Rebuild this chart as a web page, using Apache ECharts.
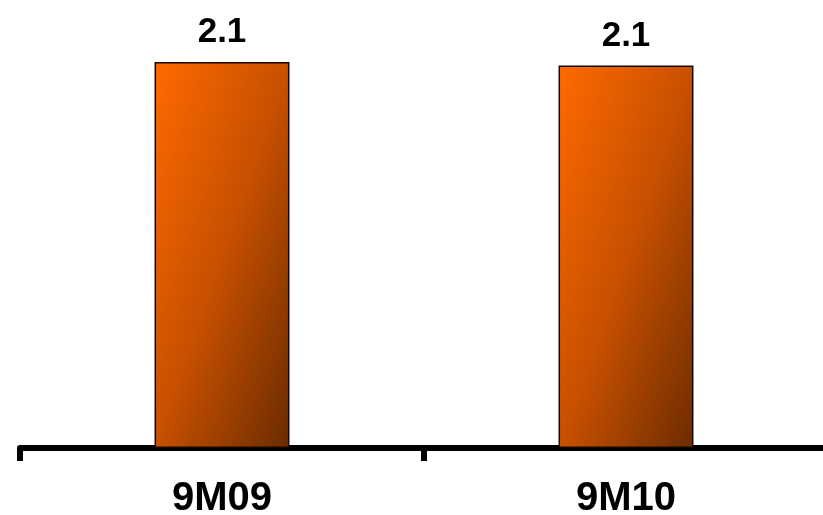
<!DOCTYPE html>
<html>
<head>
<meta charset="utf-8">
<script src="https://cdn.jsdelivr.net/npm/echarts@6/dist/echarts.min.js"></script>
<style>
html,body{margin:0;padding:0;background:#fff;}
#chart{width:823px;height:515px;}
</style>
</head>
<body>
<div id="chart"></div>
<script>
var categories = ['9M09', '9M10'];
var values = [2.12, 2.10];

var chart = echarts.init(document.getElementById('chart'));
chart.setOption({
  animation: false,
  grid: { left: 20, right: -5, top: 0, bottom: 67, containLabel: false, outerBoundsMode: 'none' },
  xAxis: {
    type: 'category',
    data: categories,
    boundaryGap: true,
    axisLine: { show: true, lineStyle: { color: '#000', width: 6 } },
    axisTick: { show: true, length: 13, interval: 0, lineStyle: { color: '#000', width: 6 } },
    axisLabel: { margin: 31, color: '#000', fontSize: 40, fontWeight: 'bold', fontFamily: 'Liberation Sans, Arial, sans-serif', interval: 0 }
  },
  yAxis: {
    type: 'value',
    min: 0,
    max: 2.46,
    show: false,
    splitLine: { show: false }
  },
  series: [{
    type: 'bar',
    data: values,
    barWidth: '33.4%',
    itemStyle: {
      borderColor: '#140800',
      borderWidth: 1.5,
      color: new echarts.graphic.LinearGradient(0, 0, 1.78, 0.22, [
        { offset: 0, color: '#FF6A00' },
        { offset: 0.5, color: '#C85000' },
        { offset: 1, color: '#6B2C00' }
      ])
    },
    label: {
      show: true,
      position: 'top',
      distance: 12,
      color: '#000',
      fontSize: 35,
      fontWeight: 'bold',
      fontFamily: 'Liberation Sans, Arial, sans-serif',
      formatter: function (p) { return p.value.toFixed(1); }
    }
  }]
});
</script>
</body>
</html>
